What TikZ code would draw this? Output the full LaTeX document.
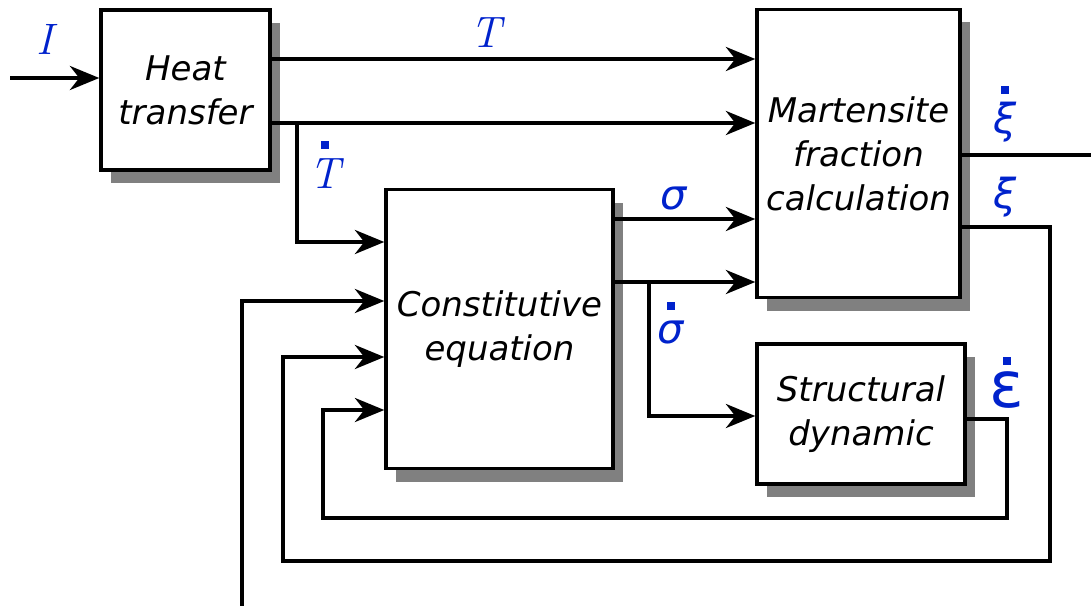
\documentclass[tikz,border=0pt]{standalone}
\usepackage{amsmath}
\usepackage{fontspec}
\setmainfont{DejaVu Sans}
\newfontfamily\greekfont{DejaVu Sans}
\usepackage{tikz}
\usetikzlibrary{arrows.meta,shadows}
\definecolor{sigblue}{RGB}{0,34,204}
% square dot over a symbol: gap, symbol
\newcommand\sqdot[2]{\vbox{\offinterlineskip\halign{\hfil##\hfil\cr\rule{6pt}{6pt}\cr\noalign{\vskip#1}#2\cr}}}

\begin{document}
\begin{tikzpicture}[x=0.75pt, y=-0.75pt,
    block/.style={draw, line width=2.6pt, fill=white, inner sep=0pt, align=center,
      font=\fontsize{25.5}{33}\selectfont\itshape,
      drop shadow={shadow xshift=7.5pt, shadow yshift=-9.75pt, fill=black!50, opacity=1}},
    arr/.style={line width=3.1pt, -{Stealth[length=22pt, width=18pt, inset=7pt]}},
    wire/.style={line width=3.1pt},
    sig/.style={text=sigblue, inner sep=0pt},
    greek/.style={sig, font=\greekfont\itshape\fontsize{31}{31}\selectfont},
    mathsig/.style={sig, font=\fontfamily{lmr}\fontsize{33}{33}\selectfont\itshape}]
    \useasboundingbox (0,0) rectangle (1091,606);
    % Define blocks
    \node[block, minimum width=126.75pt, minimum height=120pt] (heat) at (185.5,90) {Heat\\transfer};
    \node[block, minimum width=152.25pt, minimum height=216pt] (mart) at (858.5,153.5) {Martensite\\fraction\\calculation};
    \node[block, minimum width=170.25pt, minimum height=209.25pt] (const) at (499.5,329) {Constitutive\\equation};
    \node[block, minimum width=156pt, minimum height=105pt] (struct) at (861,414) {Structural\\dynamic};
    % Free ends
    \coordinate (in) at (10,78);
    \coordinate (out) at (1091,155);
    \coordinate (load) at (242,606);
    \coordinate (split) at (649,282);
    % Draw connectors
    \draw[arr] (in) -- (heat.west |- in);
    \draw[arr] (heat.east |- 0,59) -- (mart.west |- 0,59);
    \draw[arr] (heat.east |- 0,123) -- (mart.west |- 0,123);
    \draw[arr] (heat.east |- 0,123) -| (297,242) -- (const.west |- 0,242);
    \draw[arr] (const.east |- 0,219) -- (mart.west |- 0,219);
    \draw[arr] (const.east |- 0,282) -- (mart.west |- 0,282);
    \draw[arr] (split) |- (struct.west |- 0,416);
    \draw[wire] (mart.east |- out) -- (out);
    \draw[arr] (mart.east |- 0,227) -| (1050,561) -| (283,357) -- (const.west |- 0,357);
    \draw[arr] (struct.east |- 0,419) -| (1007,518) -| (323,410) -- (const.west |- 0,410);
    \draw[arr] (load) |- (const.west |- 0,301);
    % Signal labels
    \node[mathsig] (lI) at (45,39) {I};
    \node[mathsig] (lT) at (486,33) {T};
    \node[mathsig] (lTd) at (325,164.5) {\sqdot{7pt}{T}};
    \node[greek] (ls) at (674,198) {σ};
    \node[greek] (lsd) at (671,323) {\sqdot{7.5pt}{σ}};
    \node[greek] (lxd) at (1005,114) {\sqdot{6pt}{ξ}};
    \node[greek] (lx) at (1005,197) {ξ};
    \node[sig, font=\greekfont\fontsize{48}{48}\selectfont] (led) at (1007,383) {\sqdot{5pt}{ε}};
\end{tikzpicture}
\end{document}
